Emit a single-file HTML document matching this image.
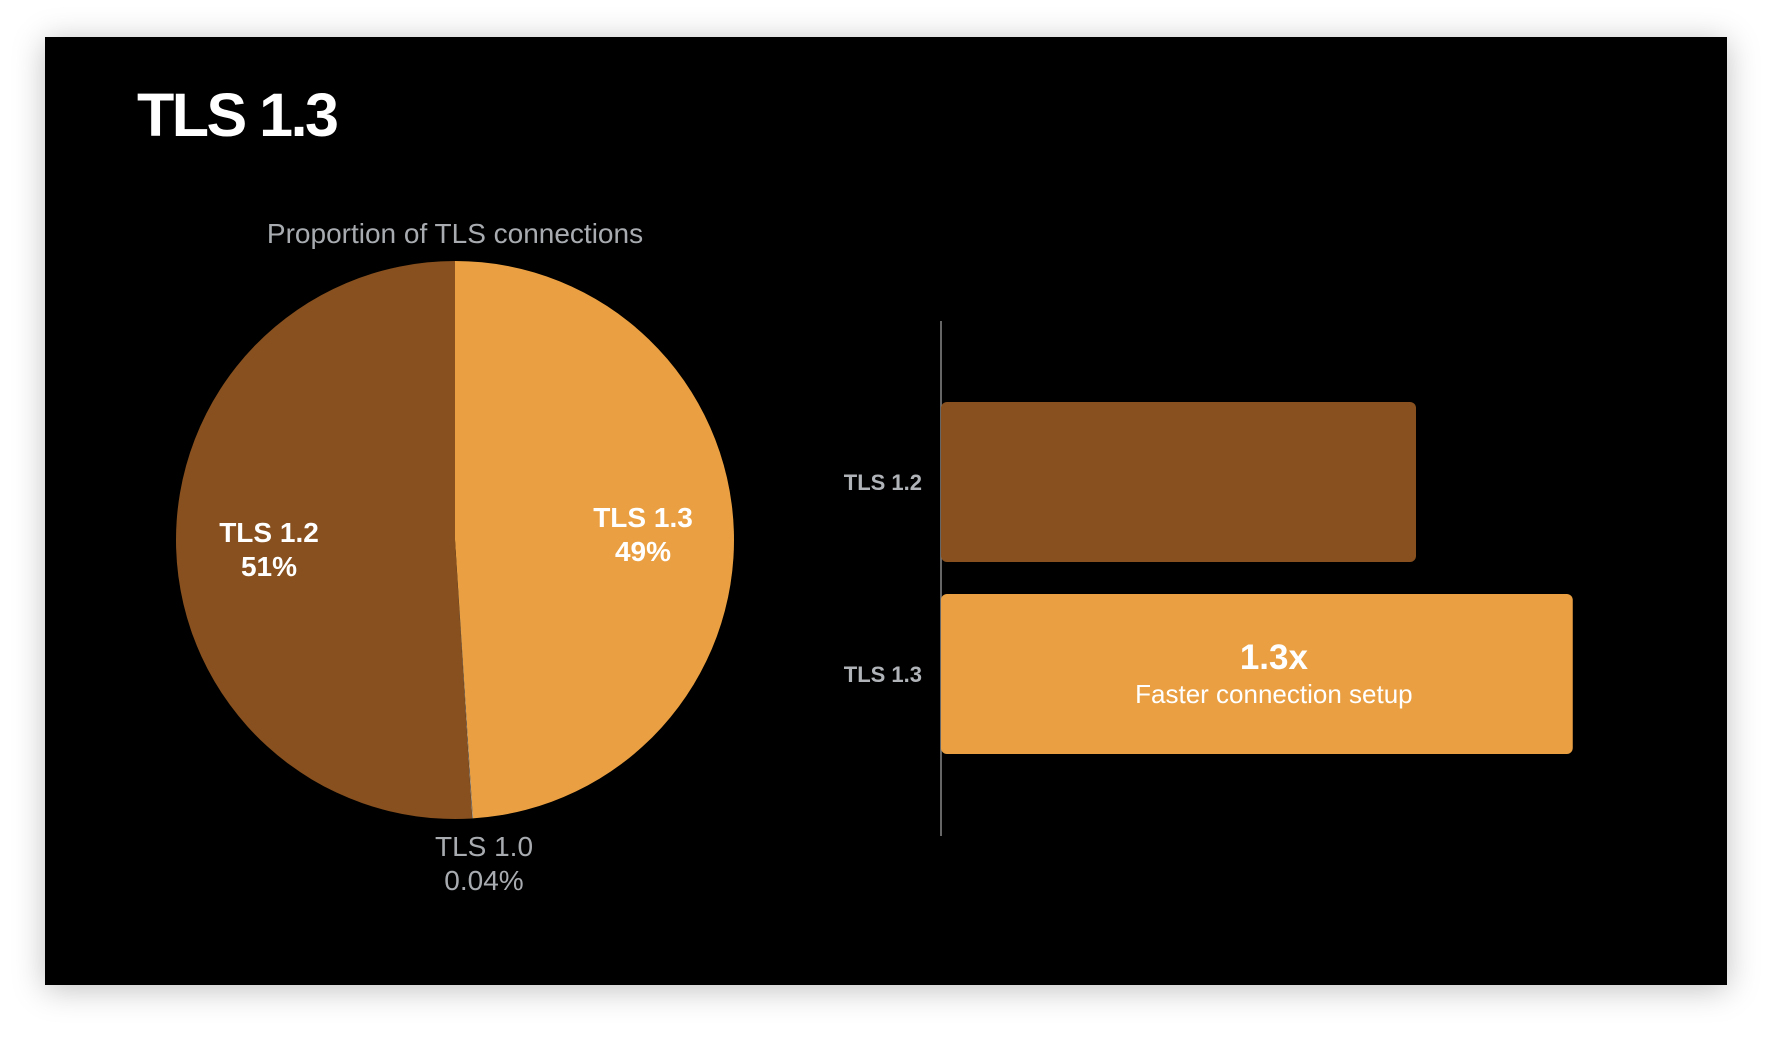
<!DOCTYPE html>
<html><head><meta charset="utf-8"><style>
html,body{margin:0;padding:0;background:#fff;width:1772px;height:1038px;overflow:hidden;font-family:"Liberation Sans",sans-serif}
#slide{position:absolute;left:45px;top:37px;width:1682px;height:948px;background:#000;box-shadow:0 4px 30px rgba(0,0,0,0.25)}
</style></head><body>
<div id="slide"></div>
<svg id="chart" width="1772" height="1038" style="position:absolute;left:0;top:0">
<text x="137" y="136" fill="#fff" font-size="61" font-weight="bold" font-family="Liberation Sans, sans-serif" letter-spacing="-2.5">TLS 1.3</text>
<text x="455" y="243" fill="#a8acb0" font-size="28" text-anchor="middle" font-family="Liberation Sans, sans-serif">Proportion of TLS connections</text>
<g id="pie"></g>
<g id="bars"></g>
</svg>
<script>
const pieLabels = ["TLS 1.3", "TLS 1.0", "TLS 1.2"];
const pieValues = [49, 0.04, 51];
const pieColors = ["#eaa042", "#9a9a9a", "#87501e"];
const barCategories = ["TLS 1.2", "TLS 1.3"];
const barValues = [1.0, 1.33];
const barColors = ["#87501e", "#eaa042"];

const NS = "http://www.w3.org/2000/svg";
function mk(tag, attrs, parent){const e=document.createElementNS(NS,tag);for(const k in attrs)e.setAttribute(k,attrs[k]);parent.appendChild(e);return e;}

// Pie
const pie = document.getElementById('pie');
const cx=455, cy=540, r=279;
const total = pieValues.reduce((a,b)=>a+b,0);
let acc=0;
function pt(frac){const a=frac*2*Math.PI;return [cx+r*Math.sin(a), cy-r*Math.cos(a)];}
pieValues.forEach((v,i)=>{
  const s=acc/total, e=(acc+v)/total; acc+=v;
  const [x1,y1]=pt(s),[x2,y2]=pt(e);
  const large=(e-s)>0.5?1:0;
  const p=mk('path',{d:`M${cx},${cy} L${x1},${y1} A${r},${r} 0 ${large} 1 ${x2},${y2} Z`,fill:pieColors[i]},pie);
  
  
});
const labelPos=[[643,527,"#fff"],[484,856,"#a8acb0"],[269,542,"#fff"]];
pieLabels.forEach((l,i)=>{
  const [x,y,c]=labelPos[i];
  const t=mk('text',{x:x,y:y,fill:c,'font-size':28,'font-weight':i===1?'normal':'bold','text-anchor':'middle','font-family':'Liberation Sans, sans-serif'},pie);
  
  
  const a=mk('tspan',{x:x},t); a.textContent=l;
  const b=mk('tspan',{x:x,dy:34},t); b.textContent=pieValues[i]+'%';
});

// Bars
const bars=document.getElementById('bars');
const x0=941, pxPerUnit=475;
const xs=v=>x0+v*pxPerUnit;
const bandTop=[402,594], bandH=160;
const axis=mk('line',{x1:x0,y1:321,x2:x0,y2:836,stroke:'#888','stroke-width':1.5},bars);


barCategories.forEach((c,i)=>{
  const y=bandTop[i];
  const rect=mk('rect',{x:x0,y:y,width:xs(barValues[i])-x0,height:bandH,rx:6,fill:barColors[i]},bars);
  
  
  const t=mk('text',{x:922,y:y+bandH/2+8,fill:'#b0b4b8','font-size':22,'font-weight':'bold','text-anchor':'end','font-family':'Liberation Sans, sans-serif'},bars);
  t.textContent=c;
  
  
});
const w2=xs(barValues[1]);
const cxm=(x0+w2)/2+17;
const t1=mk('text',{x:cxm,y:669,fill:'#fff','font-size':35,'font-weight':'bold','text-anchor':'middle','font-family':'Liberation Sans, sans-serif'},bars);
t1.textContent='1.3x';


const t2=mk('text',{x:cxm,y:703,fill:'#fff','font-size':26,'text-anchor':'middle','font-family':'Liberation Sans, sans-serif'},bars);
t2.textContent='Faster connection setup';


</script>
</body></html>
